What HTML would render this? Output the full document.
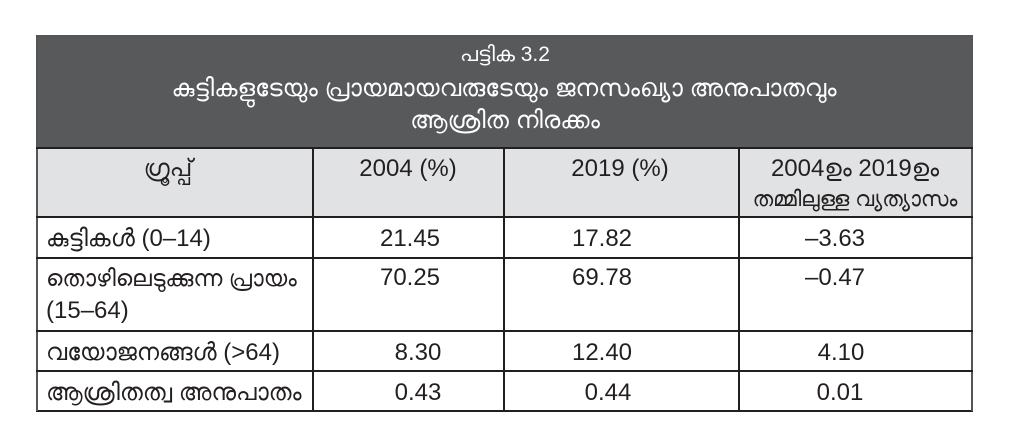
<!DOCTYPE html>
<html><head><meta charset="utf-8"><style>
body{margin:0;width:1024px;height:448px;background:#fff;position:relative;overflow:hidden;font-family:"Liberation Sans","DejaVu Sans",sans-serif;color:#231f20}
.a{position:absolute;white-space:nowrap}
.h{position:absolute;background:#231f20}
.t{font-size:24px;line-height:28px}
.c{transform:translateX(-50%)}
</style></head><body>
<div class="a" style="left:36px;top:35px;width:937px;height:113px;background:#58595b"></div>
<div class="a" style="left:36px;top:148px;width:937px;height:69px;background:#e1e2e3"></div>
<div class="h" style="left:36px;top:35px;width:937px;height:1.5px;background:#555"></div>
<div class="h" style="left:36px;top:410px;width:937px;height:1.5px"></div>
<div class="h" style="left:36px;top:35px;width:1.5px;height:376px;background:#555"></div>
<div class="h" style="left:971px;top:35px;width:1.5px;height:376px;background:#555"></div>
<div class="h" style="left:36px;top:147px;width:937px;height:1.5px"></div>
<div class="h" style="left:36px;top:216px;width:937px;height:1.5px"></div>
<div class="h" style="left:36px;top:257px;width:937px;height:1.5px"></div>
<div class="h" style="left:36px;top:330px;width:937px;height:1.5px"></div>
<div class="h" style="left:36px;top:370px;width:937px;height:1.5px"></div>
<div class="h" style="left:312px;top:148px;width:1.5px;height:263px"></div>
<div class="h" style="left:503px;top:148px;width:1.5px;height:263px"></div>
<div class="h" style="left:738px;top:148px;width:1.5px;height:263px"></div>
<div class="a t c" style="left:505px;top:41px;color:#fff;font-size:21px">പട്ടിക 3.2</div>
<div class="a t c" style="left:504px;top:75px;color:#fff;font-size:24.5px">കുട്ടികളുടേയും പ്രായമായവരുടേയും ജനസംഖ്യാ അനുപാതവും</div>
<div class="a t c" style="left:505px;top:107px;color:#fff;font-size:24.5px">ആശ്രിത നിരക്കം</div>
<div class="a t c" style="left:168px;top:155px">ഗ്രൂപ്പ്</div>
<div class="a t c" style="left:408px;top:155px">2004 (%)</div>
<div class="a t c" style="left:620px;top:155px">2019 (%)</div>
<div class="a t c" style="left:855px;top:155px">2004ഉം 2019ഉം</div>
<div class="a t c" style="left:855px;top:185px;font-size:21.5px">തമ്മിലുള്ള വ്യത്യാസം</div>
<div class="a t" style="left:46px;top:225px">കുട്ടികൾ (0–14)</div>
<div class="a t" style="left:46px;top:264px;font-size:23px">തൊഴിലെടുക്കുന്ന പ്രായം</div>
<div class="a t" style="left:46px;top:297px">(15–64)</div>
<div class="a t" style="left:46px;top:339px">വയോജനങ്ങൾ (&gt;64)</div>
<div class="a t" style="left:46px;top:379px">ആശ്രിതത്വ അനുപാതം</div>
<div class="a t c" style="left:410px;top:225px">21.45</div>
<div class="a t c" style="left:410px;top:264px">70.25</div>
<div class="a t c" style="left:418px;top:339px">8.30</div>
<div class="a t c" style="left:418px;top:379px">0.43</div>
<div class="a t c" style="left:602px;top:225px">17.82</div>
<div class="a t c" style="left:602px;top:264px">69.78</div>
<div class="a t c" style="left:602px;top:339px">12.40</div>
<div class="a t c" style="left:608px;top:379px">0.44</div>
<div class="a t c" style="left:835px;top:225px">–3.63</div>
<div class="a t c" style="left:835px;top:264px">–0.47</div>
<div class="a t c" style="left:841px;top:339px">4.10</div>
<div class="a t c" style="left:840px;top:379px">0.01</div>
</body></html>
